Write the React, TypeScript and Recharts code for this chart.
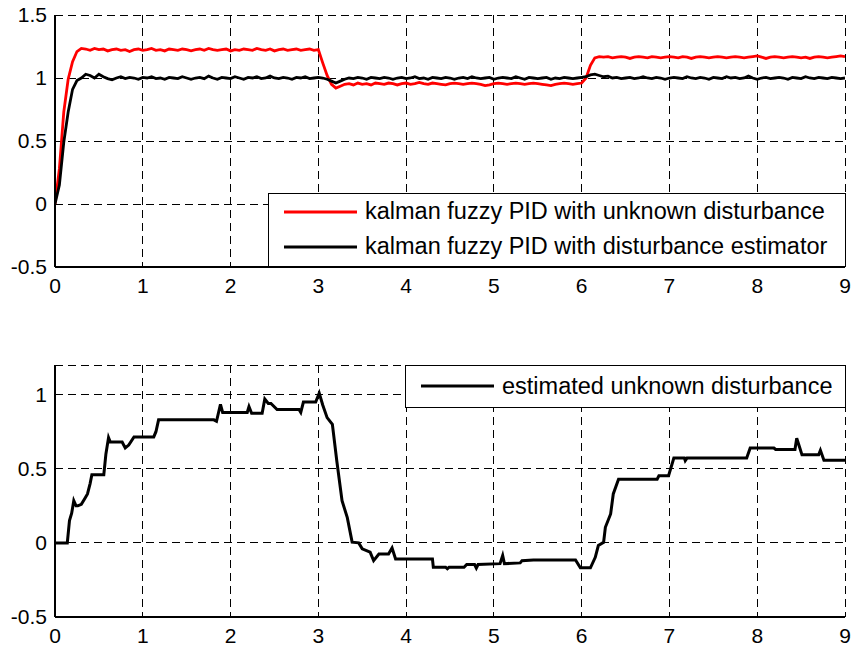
import React from "react";
import { LineChart, Line, XAxis, YAxis, CartesianGrid, Legend } from "recharts";

const FONT = "'Liberation Sans', Arial, sans-serif";

// sample step of the two response curves (seconds)
const DT = 0.05;

const X_TICKS = [0, 1, 2, 3, 4, 5, 6, 7, 8, 9];
const TOP_Y_TICKS = [-0.5, 0, 0.5, 1, 1.5];
const BOTTOM_Y_TICKS = [-0.5, 0, 0.5, 1];

const redName = "kalman fuzzy PID with unknown disturbance";
const blackName = "kalman fuzzy PID with disturbance estimator";
const distName = "estimated unknown disturbance";

const redValues = [
  0, 0.28, 0.73, 0.99, 1.13, 1.21, 1.235,
  1.23, 1.22, 1.235, 1.225, 1.23, 1.215, 1.225, 1.23, 1.22, 1.225,
  1.21, 1.225, 1.23, 1.22, 1.225, 1.235, 1.22, 1.225, 1.215, 1.23,
  1.225, 1.22, 1.23, 1.225, 1.215, 1.225, 1.23, 1.22, 1.235, 1.225,
  1.22, 1.225, 1.23, 1.215, 1.225, 1.22, 1.23, 1.225, 1.22, 1.235,
  1.225, 1.22, 1.23, 1.215, 1.225, 1.23, 1.22, 1.225, 1.23, 1.22,
  1.225, 1.23, 1.22, 1.225,
  1.12, 1.02, 0.95, 0.92, 0.935, 0.95,
  0.955, 0.945, 0.96, 0.95, 0.955, 0.945, 0.96, 0.955, 0.95, 0.96,
  0.955, 0.945, 0.955, 0.96, 0.95, 0.955, 0.965, 0.955, 0.95, 0.96,
  0.955, 0.95, 0.945, 0.955, 0.96, 0.955, 0.95, 0.955, 0.96, 0.955,
  0.95, 0.94, 0.945, 0.955, 0.96, 0.955, 0.95, 0.955, 0.96, 0.955,
  0.95, 0.955, 0.96, 0.955, 0.95, 0.945, 0.94, 0.95, 0.955, 0.96,
  0.955, 0.95, 0.955, 0.96,
  1.0, 1.1, 1.16, 1.17,
  1.165, 1.17, 1.16, 1.165, 1.17, 1.165, 1.155, 1.165, 1.17, 1.165,
  1.16, 1.17, 1.165, 1.16, 1.165, 1.17, 1.165, 1.16, 1.17, 1.165,
  1.155, 1.165, 1.17, 1.165, 1.16, 1.165, 1.17, 1.165, 1.16, 1.165,
  1.17, 1.165, 1.16, 1.165, 1.17, 1.175, 1.165, 1.155, 1.165, 1.17,
  1.165, 1.16, 1.165, 1.17, 1.165, 1.16, 1.165, 1.155, 1.165, 1.17,
  1.165, 1.16, 1.165, 1.17, 1.175, 1.17,
];

const blackValues = [
  0, 0.15, 0.49, 0.73, 0.91, 0.98, 1.0, 1.03, 1.02,
  1.0, 1.03, 1.01, 0.995, 0.985, 1.0, 1.01, 0.995, 1.005, 1.0,
  0.99, 1.005, 1.0, 1.01, 0.995, 1.0, 0.99, 1.005, 1.0, 0.995,
  1.01, 1.0, 0.99, 1.0, 1.005, 0.995, 1.015, 1.0, 0.99, 1.005,
  1.0, 0.995, 1.01, 1.0, 0.99, 1.005, 1.0, 1.01, 0.995, 1.0,
  1.015, 1.0, 0.995, 1.005, 1.0, 0.99, 1.005, 1.0, 1.01, 0.995,
  1.0, 1.005,
  1.0, 0.99, 0.975, 0.96, 0.975, 0.99,
  1.0, 0.995, 1.005, 1.0, 0.99, 1.005, 1.0, 0.995, 1.005, 1.0,
  0.99, 1.0, 1.005, 0.995, 1.0, 1.01, 0.995, 1.0, 0.99, 1.005,
  1.0, 0.995, 1.005, 1.0, 0.99, 1.0, 1.005, 0.995, 1.01, 1.0,
  0.995, 1.0, 1.005, 0.99, 1.0, 1.005, 1.0, 0.995, 1.01, 1.0,
  0.99, 1.005, 1.0, 0.995, 1.0, 1.005, 0.99, 1.0, 0.995, 1.005,
  1.0, 0.995, 1.0, 1.005,
  1.01, 1.025, 1.03, 1.02,
  1.01, 1.015, 1.0, 1.005, 0.995, 1.0, 1.005, 0.995, 1.0, 1.01,
  1.0, 0.995, 1.005, 1.0, 0.99, 1.0, 1.005, 1.0, 0.995, 1.01,
  1.0, 0.995, 1.005, 1.0, 0.99, 1.005, 1.0, 0.995, 1.01, 1.0,
  1.005, 0.995, 1.0, 1.015, 1.0, 0.99, 1.0, 1.005, 0.995, 1.0,
  1.005, 1.0, 0.99, 1.005, 1.0, 0.995, 1.01, 1.0, 0.995, 1.005,
  1.0, 0.995, 1.005, 1.0, 0.995, 1.0,
];

// estimator output, read at its corners (time, value)
const distTimes = [
  0, 0.14, 0.165, 0.19, 0.214, 0.24, 0.26, 0.3, 0.34, 0.37, 0.4, 0.42, 0.556, 0.58, 0.61, 0.63,
  0.765, 0.8, 0.84, 0.9, 1.125, 1.15, 1.18, 1.81, 1.84, 1.885, 1.91, 2.19, 2.21, 2.24, 2.36, 2.39,
  2.43, 2.46, 2.53, 2.78, 2.8, 2.83, 2.97, 3.01, 3.05, 3.1, 3.16, 3.21, 3.27, 3.33, 3.385, 3.46,
  3.5, 3.59, 3.63, 3.69, 3.8, 3.84, 3.88, 4.3, 4.31, 4.45, 4.47, 4.49, 4.66, 4.69, 4.78, 4.8,
  4.82, 5.07, 5.1, 5.12, 5.3, 5.32, 5.45, 5.93, 5.985, 6.1, 6.155, 6.19, 6.25, 6.27, 6.33, 6.36,
  6.42, 6.86, 6.88, 6.99, 7.05, 7.17, 7.18, 7.2, 7.88, 7.92, 8.19, 8.21, 8.43, 8.45, 8.48, 8.51,
  8.7, 8.72, 8.76, 9,
];
const distValues = [
  0, 0, 0.15, 0.2, 0.285, 0.25, 0.25, 0.26, 0.3, 0.33, 0.4, 0.46, 0.46, 0.6, 0.71, 0.68,
  0.68, 0.64, 0.66, 0.715, 0.715, 0.75, 0.83, 0.83, 0.82, 0.935, 0.88, 0.88, 0.92, 0.875, 0.875, 0.97,
  0.94, 0.94, 0.9, 0.9, 0.88, 0.95, 0.95, 1.01, 0.93, 0.845, 0.8, 0.554, 0.285, 0.17, 0.005, 0,
  -0.04, -0.063, -0.12, -0.075, -0.075, -0.034, -0.108, -0.108, -0.164, -0.164, -0.175, -0.164, -0.164, -0.146, -0.146, -0.17,
  -0.146, -0.14, -0.085, -0.14, -0.135, -0.12, -0.115, -0.115, -0.168, -0.168, -0.097, -0.018, 0.004, 0.105, 0.195, 0.33,
  0.43, 0.43, 0.453, 0.453, 0.572, 0.572, 0.555, 0.572, 0.572, 0.64, 0.64, 0.63, 0.63, 0.706, 0.65, 0.594,
  0.594, 0.625, 0.558, 0.558,
];

const responseData = redValues.map((v, i) => ({
  t: Math.round(i * DT * 100) / 100,
  red: v,
  black: blackValues[i],
}));

const distData = distTimes.map((t, i) => ({ t, d: distValues[i] }));

const tickStyle = { fill: "#000", fontSize: 21, fontFamily: FONT };
const frameLine = { stroke: "#000", strokeWidth: 2 };
const noLabel = () => "";

function boxLegend(order: string[], rowHeight: number) {
  return (props: any) => {
    const items = [...(props.payload || [])].sort(
      (a: any, b: any) => order.indexOf(a.value) - order.indexOf(b.value)
    );
    return (
      <div
        style={{
          width: "100%",
          height: "100%",
          boxSizing: "border-box",
          border: "1.5px solid #000",
          background: "#fff",
          fontFamily: FONT,
          fontSize: 23.5,
          color: "#000",
        }}
      >
        {items.map((entry: any) => (
          <div key={entry.value} style={{ display: "flex", alignItems: "center", height: rowHeight, whiteSpace: "nowrap" }}>
            <svg width={96} height={10} style={{ flex: "none" }}>
              <line x1={15} y1={5} x2={88} y2={5} stroke={entry.color} strokeWidth={3} />
            </svg>
            <span>{entry.value}</span>
          </div>
        ))}
      </div>
    );
  };
}

// four sided MATLAB style box: labelled bottom/left axes, mirrored top/right with inward ticks
function frameAxes(yDomain: number[], yTicks: number[], xHeight: number) {
  return [
    <XAxis
      key="xb"
      dataKey="t"
      type="number"
      domain={[0, 9]}
      ticks={X_TICKS}
      allowDataOverflow
      axisLine={frameLine}
      tickLine={false}
      tickSize={0}
      tickMargin={11}
      height={xHeight}
      tick={tickStyle}
    />,
    <XAxis
      key="xt"
      xAxisId="top"
      orientation="top"
      type="number"
      domain={[0, 9]}
      ticks={X_TICKS}
      allowDataOverflow
      mirror
      height={0}
      axisLine={frameLine}
      tickLine={{ stroke: "#000", strokeWidth: 1.5 }}
      tickSize={7}
      tickFormatter={noLabel}
    />,
    <YAxis
      key="yl"
      type="number"
      domain={yDomain}
      ticks={yTicks}
      allowDataOverflow
      axisLine={frameLine}
      tickLine={false}
      tickSize={0}
      tickMargin={8}
      width={55}
      tick={tickStyle}
    />,
    <YAxis
      key="yr"
      yAxisId="right"
      orientation="right"
      type="number"
      domain={yDomain}
      ticks={yTicks}
      allowDataOverflow
      mirror
      width={0}
      axisLine={frameLine}
      tickLine={{ stroke: "#000", strokeWidth: 1.5 }}
      tickSize={7}
      tickFormatter={noLabel}
    />,
  ];
}

export default function App() {
  return (
    <div style={{ position: "absolute", left: 0, top: 0, width: 853, height: 650, background: "#fff" }}>
      <LineChart width={853} height={325} data={responseData} margin={{ top: 15, right: 8, bottom: 23, left: 0 }}>
        <CartesianGrid stroke="#000" strokeDasharray="8 5" strokeWidth={1} shapeRendering="crispEdges" />
        {frameAxes([-0.5, 1.5], TOP_Y_TICKS, 35)}
        <Line dataKey="red" name={redName} stroke="#ff0000" strokeWidth={2.8} dot={false} isAnimationActive={false} />
        <Line dataKey="black" name={blackName} stroke="#000000" strokeWidth={2.8} dot={false} isAnimationActive={false} />
        <Legend
          layout="horizontal"
          verticalAlign="middle"
          align="center"
          content={boxLegend([redName, blackName], 35)}
          wrapperStyle={{ left: 268, top: 193, width: 578, height: 74 }}
        />
      </LineChart>
      <LineChart width={853} height={325} data={distData} margin={{ top: 40, right: 8, bottom: 0, left: 0 }}>
        <CartesianGrid stroke="#000" strokeDasharray="8 5" strokeWidth={1} shapeRendering="crispEdges" />
        {frameAxes([-0.5, 1.2], BOTTOM_Y_TICKS, 33)}
        <Line dataKey="d" name={distName} stroke="#000000" strokeWidth={3} dot={false} isAnimationActive={false} />
        <Legend
          layout="horizontal"
          verticalAlign="middle"
          align="center"
          content={boxLegend([distName], 40)}
          wrapperStyle={{ left: 405, top: 40, width: 441, height: 43 }}
        />
      </LineChart>
    </div>
  );
}
